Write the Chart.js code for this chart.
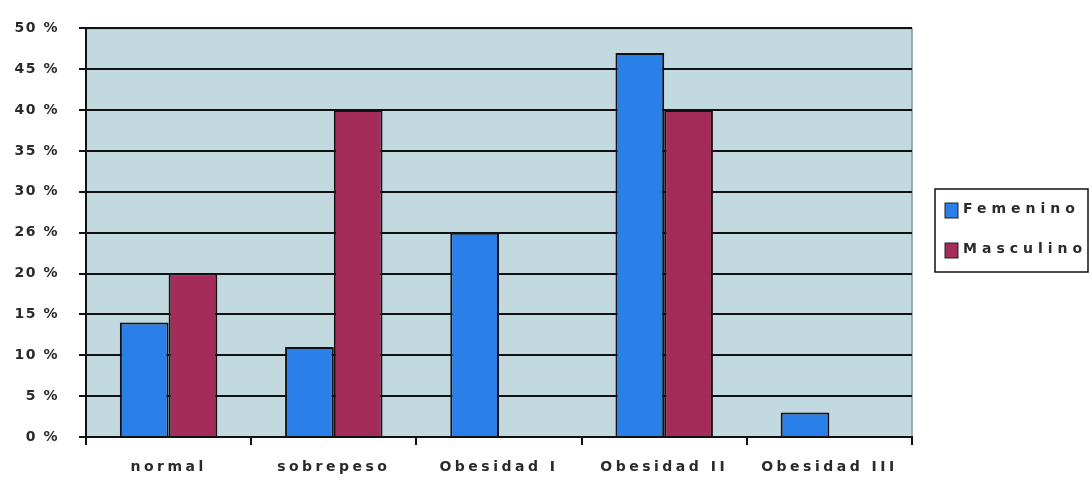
<!DOCTYPE html>
<html>
<head>
<meta charset="utf-8">
<script src="https://cdn.jsdelivr.net/npm/chart.js@4.4.1/dist/chart.umd.min.js"></script>
<style>
  html, body { margin: 0; padding: 0; background: #ffffff; }
  #wrap { width: 1092px; height: 485px; position: relative; }
</style>
</head>
<body>
<div id="wrap"><canvas id="c" width="1092" height="485"></canvas></div>
<script>
// Weight categories and share (%) of each sex in them
const categories = ['normal', 'sobrepeso', 'Obesidad I', 'Obesidad II', 'Obesidad III'];
const femenino  = [14, 11, 25, 47, 3];
const masculino = [20, 40, 0, 40, 0];
const seriesNames = ['Femenino', 'Masculino'];
// Y axis labels, 0 to 50 in steps of 5
const yTickLabels = ['0 %', '5 %', '10 %', '15 %', '20 %', '26 %', '30 %', '35 %', '40 %', '45 %', '50 %'];

const FONT = '"DejaVu Sans", Verdana, sans-serif';
const TEXT = '#2a2a2a';
const SPACING = { x: '3.5px', y: '1.5px' };

// Plot area background and frame, plus letter spacing for the axis labels
const frame = {
  id: 'frame',
  beforeUpdate(chart) { chart.ctx.letterSpacing = '3px'; },
  afterUpdate(chart) {
    ['x', 'y'].forEach((id) => {
      const s = chart.scales[id];
      if (s && !s._spaced) {
        const orig = s.drawLabels.bind(s);
        s.drawLabels = (area) => {
          const ctx = s.ctx;
          const prev = ctx.letterSpacing;
          ctx.letterSpacing = SPACING[id];
          orig(area);
          ctx.letterSpacing = prev;
        };
        s._spaced = true;
      }
    });
  },
  beforeDraw(chart) {
    const { ctx, chartArea: a } = chart;
    ctx.save();
    ctx.fillStyle = '#c2d9e0';
    ctx.fillRect(a.left, a.top, a.right - a.left, a.bottom - a.top);
    ctx.strokeStyle = '#8598a0';
    ctx.lineWidth = 1.5;
    ctx.beginPath();
    ctx.moveTo(a.left, a.top);
    ctx.lineTo(a.right, a.top);
    ctx.lineTo(a.right, a.bottom);
    ctx.stroke();
    ctx.restore();
  }
};

// Boxed legend on the right
const boxLegend = {
  id: 'boxLegend',
  afterDraw(chart) {
    const { ctx } = chart;
    ctx.save();
    const x = 935, y = 189, w = 153, h = 83;
    ctx.fillStyle = '#ffffff';
    ctx.fillRect(x, y, w, h);
    ctx.strokeStyle = '#111111';
    ctx.lineWidth = 1.5;
    ctx.strokeRect(x, y, w, h);
    ctx.font = 'bold 14px ' + FONT;
    ctx.letterSpacing = '5px';
    ctx.textBaseline = 'middle';
    ctx.textAlign = 'left';
    chart.data.datasets.forEach((ds, i) => {
      const cy = y + 20 + i * 40;
      ctx.fillStyle = ds.backgroundColor;
      ctx.fillRect(x + 10, cy - 6, 13, 15);
      ctx.strokeStyle = '#222';
      ctx.lineWidth = 1;
      ctx.strokeRect(x + 10, cy - 6, 13, 15);
      ctx.fillStyle = TEXT;
      ctx.fillText(ds.label, x + 28, cy);
    });
    ctx.restore();
  }
};

new Chart(document.getElementById('c'), {
  type: 'bar',
  data: {
    labels: categories,
    datasets: [
      { label: seriesNames[0], data: femenino, backgroundColor: '#2b7fe8', borderColor: '#111', borderWidth: 2, borderSkipped: 'start' },
      { label: seriesNames[1], data: masculino, backgroundColor: '#a32d58', borderColor: '#111', borderWidth: 2, borderSkipped: 'start' }
    ]
  },
  options: {
    responsive: false,
    animation: false,
    layout: { padding: { top: 25, right: 180, left: 0, bottom: 0 } },
    datasets: { bar: { categoryPercentage: 0.59, barPercentage: 1 } },
    plugins: { legend: { display: false }, tooltip: { enabled: false } },
    scales: {
      x: {
        afterFit(s) { s.height = 48; },
        grid: { offset: true, drawOnChartArea: false, drawTicks: true, tickLength: 8, color: '#111', lineWidth: 2 },
        border: { display: true, color: '#111', width: 2 },
        ticks: { color: TEXT, font: { family: FONT, size: 14, weight: 'bold' }, padding: 14, maxRotation: 0, autoSkip: false }
      },
      y: {
        min: 0, max: 50,
        afterFit(s) { s.width = 86; },
        ticks: {
          stepSize: 5,
          color: TEXT,
          font: { family: FONT, size: 14, weight: 'bold' },
          padding: 20,
          callback: (v) => yTickLabels[Math.round(v / 5)]
        },
        grid: { color: '#111', lineWidth: 2, tickLength: 7 },
        border: { display: true, color: '#111', width: 2 }
      }
    }
  },
  plugins: [frame, boxLegend]
});
</script>
</body>
</html>
